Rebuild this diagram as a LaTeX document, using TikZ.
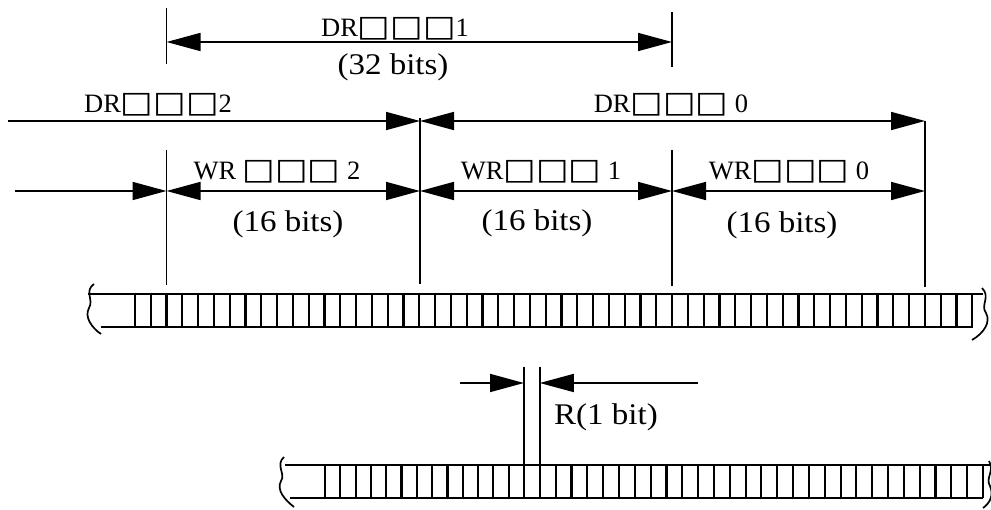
\documentclass[tikz,border=0pt]{standalone}
\usepackage{fontspec}
\usepackage{graphicx}
\setmainfont{Liberation Serif}
\newfontfamily\djv{DejaVu Sans}
\usetikzlibrary{arrows.meta}
\newcommand{\bsq}{{\djv\scalebox{1.3}[1.12]{□}}}
\newcommand{\wbits}[1]{\scalebox{1.1}[1]{#1}}
\tikzset{
  >={Triangle[length=34pt,width=18pt]},
  ln/.style={line width=1.7pt},
  dimline/.style={line width=1.7pt},
  tape/.style={line width=2.4pt},
  bitline/.style={line width=2.1pt},
  lab/.style={font=\fontsize{26.5}{28}\selectfont, inner sep=0pt, anchor=base},
  bits/.style={font=\fontsize{30}{32}\selectfont, inner sep=0pt, anchor=base},
}
\begin{document}
\begin{tikzpicture}[x=1pt,y=-1pt]
\useasboundingbox (0,0) rectangle (991,510);

% ---- top dimension DR 1 ----
\coordinate (t1) at (166.5,8);  \coordinate (b1) at (166.5,64);
\coordinate (t3) at (672,12);   \coordinate (b3) at (672,67);
\draw[ln] (t1) -- (b1);
\draw[ln] (t3) -- (b3);
\coordinate (a1) at (166.5,42); \coordinate (a3) at (672,42);
\draw[dimline,<->] (a1) -- (a3);
\node[lab] (ldr1) at (395,37) {DR\bsq\bsq\bsq 1};
\node[bits] (l32) at (393,75) {\wbits{(32 bits)}};

% ---- DR 2 / DR 0 row ----
\coordinate (d0) at (8,121); \coordinate (d2) at (420,121); \coordinate (d4) at (925,121);
\draw[dimline,->] (d0) -- (d2);
\draw[dimline,<->] (d2) -- (d4);
\node[lab] (ldr2) at (158,113) {DR\bsq\bsq\bsq 2};
\node[lab] (ldr0) at (671,113) {DR\bsq\bsq\bsq\ 0};

% ---- vertical markers ----
\coordinate (v1t) at (166.5,150); \coordinate (v1b) at (166.5,285);
\coordinate (v2t) at (420,118);   \coordinate (v2b) at (420,284);
\coordinate (v3t) at (672,150);   \coordinate (v3b) at (672,286);
\coordinate (v4t) at (925,121);   \coordinate (v4b) at (925,287);
\draw[ln] (v1t) -- (v1b);
\draw[ln] (v2t) -- (v2b);
\draw[ln] (v3t) -- (v3b);
\draw[ln] (v4t) -- (v4b);

% ---- WR row ----
\coordinate (w0) at (15,191); \coordinate (w1) at (166.5,191);
\coordinate (w2) at (420,191); \coordinate (w3) at (672,191); \coordinate (w4) at (925,191);
\draw[dimline,->] (w0) -- (w1);
\draw[dimline,<->] (w1) -- (w2);
\draw[dimline,<->] (w2) -- (w3);
\draw[dimline,<->] (w3) -- (w4);
\node[lab] (lwr2) at (277,180) {WR\ \bsq\bsq\bsq\ 2};
\node[lab] (lwr1) at (541,180) {WR\bsq\bsq\bsq\ 1};
\node[lab] (lwr0) at (789,180) {WR\bsq\bsq\bsq\ 0};
\node[bits] (l16a) at (288,232) {\wbits{(16 bits)}};
\node[bits] (l16b) at (537,231) {\wbits{(16 bits)}};
\node[bits] (l16c) at (782,233) {\wbits{(16 bits)}};

% ---- upper tape ----
\draw[tape] (88,294) -- (983,294);
\draw[tape] (101,327) -- (973,327);
\draw[ln] (94,284) .. controls (84,291) and (94,300) .. (89,308)
          .. controls (84,317) and (92,328) .. (101,334);
\draw[ln] (982,288) .. controls (991,297) and (980,305) .. (986,313)
          .. controls (991,322) and (984,333) .. (972,340);
\foreach \k in {-2,...,51}{
  \draw[bitline] ({166.5+15.8*\k},294) -- ({166.5+15.8*\k},327);
}

% ---- lower tape ----
\draw[tape] (285,465) -- (991,465);
\draw[tape] (290,498) -- (983,498);
\draw[ln] (284,457) .. controls (275,465) and (286,474) .. (281,481)
          .. controls (276,490) and (285,500) .. (294,507);
\draw[ln] (989,461) .. controls (995,471) and (985,478) .. (990,486)
          .. controls (994,495) and (990,503) .. (983,508);
\foreach \k in {0,...,13}{
  \draw[bitline] ({325+15.3077*\k},465) -- ({325+15.3077*\k},498);
}
\foreach \k in {1,...,29}{
  \draw[bitline] ({524+15.8276*\k},465) -- ({524+15.8276*\k},498);
}

% ---- R (1 bit) ----
\coordinate (r1t) at (524,367); \coordinate (r1b) at (524,465);
\coordinate (r2t) at (539.8,367); \coordinate (r2b) at (539.8,465);
\draw[ln] (r1t) -- (r1b);
\draw[ln] (r2t) -- (r2b);
\coordinate (ra) at (460,383); \coordinate (ra1) at (524,383);
\coordinate (rb) at (698,383); \coordinate (rb1) at (539.8,383);
\draw[dimline,->] (ra) -- (ra1);
\draw[dimline,->] (rb) -- (rb1);
\node[bits] (lr) at (606,425) {\wbits{R(1 bit)}};
\end{tikzpicture}
\end{document}
